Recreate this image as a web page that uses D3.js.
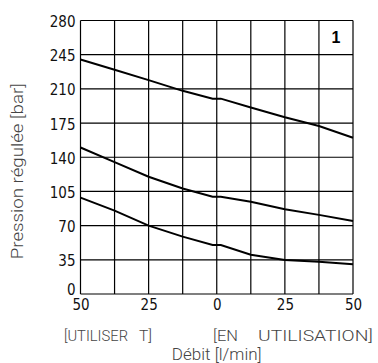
<!DOCTYPE html>
<html>
<head>
<meta charset="utf-8">
<script src="https://cdn.jsdelivr.net/npm/d3@7"></script>
<style>
  body { margin: 0; background: #fff; }
  svg { display: block; }
</style>
</head>
<body>
<div id="chart"></div>
<script>
// Flow (l/min): negative side = "UTILISER T", positive side = "EN UTILISATION"
const flow = [-50, -37.5, -25, -12.5, -1.5, 1.5, 12.5, 25, 37.5, 50];
const highCurve = [240, 229.5, 219, 208, 200, 200, 191, 181, 172, 160];
const midCurve = [150, 135, 120, 108, 99.5, 99.5, 94.5, 86.7, 81, 74.7];
const lowCurve = [98.6, 85.3, 70, 58.7, 50.2, 50.2, 40.2, 34.8, 33.1, 30.4];

const xTicks = [-50, -25, 0, 25, 50];
const xGrid = [-37.5, -12.5, 12.5, 37.5];
const yTicks = [0, 35, 70, 105, 140, 175, 210, 245, 280];

const W = 378, H = 363;
const margin = { top: 20.5, right: 25, bottom: 69, left: 80.5 };
const width = W - margin.left - margin.right;
const height = H - margin.top - margin.bottom;

const svg = d3.select("#chart")
  .append("svg")
  .attr("width", W)
  .attr("height", H);

const g = svg.append("g")
  .attr("transform", `translate(${margin.left},${margin.top})`);

const x = d3.scaleLinear().domain([-50, 50]).range([0, width]);
const y = d3.scaleLinear().domain([0, 280]).range([height, 0]);

const tickFont = "'DejaVu Sans Condensed', 'DejaVu Sans', sans-serif";
const textFont = "Roboto, 'Liberation Sans', Arial, sans-serif";

// grid lines
g.selectAll(".hgrid")
  .data(yTicks)
  .enter()
  .append("line")
  .attr("x1", 0)
  .attr("x2", width)
  .attr("y1", d => y(d))
  .attr("y2", d => y(d))
  .style("stroke", "#000")
  .style("stroke-width", 1.2);

g.selectAll(".vgrid")
  .data(xTicks.concat(xGrid))
  .enter()
  .append("line")
  .attr("x1", d => x(d))
  .attr("x2", d => x(d))
  .attr("y1", 0)
  .attr("y2", height)
  .style("stroke", "#000")
  .style("stroke-width", 1.2);

// axes (labels only)
const yAxis = g.append("g")
  .call(d3.axisLeft(y).tickValues(yTicks).tickSize(0).tickPadding(5));
yAxis.select(".domain").remove();
yAxis.selectAll("text")
  .style("font-family", tickFont)
  .style("font-size", "15px")
  .style("fill", "#111")
  .attr("dy", d => d === 0 ? "0.05em" : "0.4em");

const xAxis = g.append("g")
  .attr("transform", `translate(0,${height})`)
  .call(d3.axisBottom(x).tickValues(xTicks).tickSize(0).tickPadding(5)
    .tickFormat(d => Math.abs(d)));
xAxis.select(".domain").remove();
xAxis.selectAll("text")
  .style("font-family", tickFont)
  .style("font-size", "15px")
  .style("fill", "#111");

// curves
const line = d3.line()
  .x((d, i) => x(flow[i]))
  .y(d => y(d));

[highCurve, midCurve, lowCurve].forEach(series => {
  g.append("path")
    .datum(series)
    .attr("d", line)
    .style("fill", "none")
    .style("stroke", "#000")
    .style("stroke-width", 2);
});

// chart number
g.append("text")
  .attr("x", x(43.75))
  .attr("y", 22)
  .attr("text-anchor", "middle")
  .style("font-family", "'Liberation Sans', Arial, sans-serif")
  .style("font-weight", "bold")
  .style("font-size", "16px")
  .text("1");

// axis titles
svg.append("text")
  .attr("transform", `translate(23,${margin.top + height / 2 + 14}) rotate(-90)`)
  .attr("text-anchor", "middle")
  .attr("textLength", 176)
  .attr("lengthAdjust", "spacingAndGlyphs")
  .style("font-family", textFont)
  .style("font-size", "17px")
  .style("font-weight", 300)
  .style("fill", "#444")
  .text("Pression régulée [bar]");

// side labels: word groups stretched to the spans of the original
function sideLabel(left, right, x0, w0, x1, w1) {
  const t = svg.append("text")
    .attr("y", 341)
    .style("font-family", textFont)
    .style("font-size", "15px")
    .style("font-weight", 300)
    .style("fill", "#444");
  t.append("tspan").attr("x", x0)
    .attr("textLength", w0).attr("lengthAdjust", "spacingAndGlyphs").text(left);
  t.append("tspan").attr("x", x1)
    .attr("textLength", w1).attr("lengthAdjust", "spacingAndGlyphs").text(right);
}
sideLabel("[UTILISER", "T]", 64, 64, 139, 13);
sideLabel("[EN", "UTILISATION]", 213, 25, 258, 115);

svg.append("text")
  .attr("x", margin.left + width / 2)
  .attr("y", 360)
  .attr("text-anchor", "middle")
  .style("font-family", textFont)
  .style("font-size", "17px")
  .style("font-weight", 300)
  .style("fill", "#444")
  .text("Débit [l/min]");
</script>
</body>
</html>
